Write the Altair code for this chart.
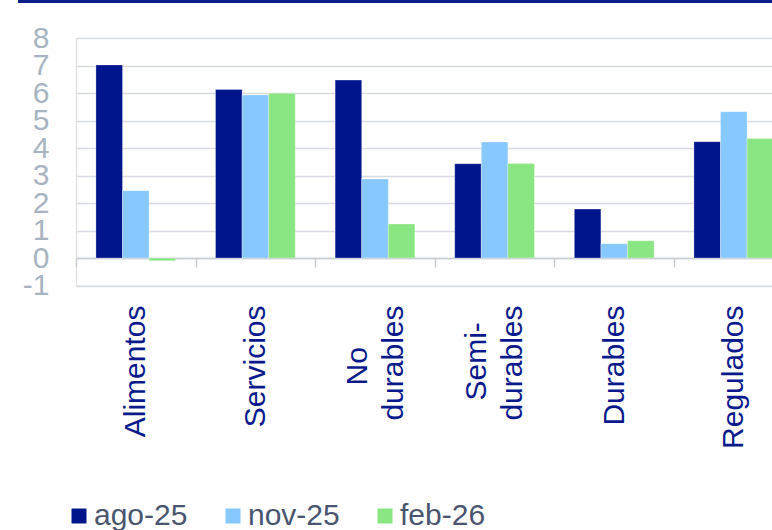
import altair as alt
import pandas as pd

NB = "\u00a0"
ZW = "\u200b"
categories = ["Alimentos", "Servicios", "No" + NB * 5 + ZW + "\ndurables", "Semi-" + NB * 2 + ZW + "\ndurables", "Durables", "Regulados"]
series = ["ago-25", "nov-25", "feb-26"]
ago_25 = [7.02, 6.13, 6.47, 3.43, 1.78, 4.23]
nov_25 = [2.45, 5.93, 2.87, 4.22, 0.52, 5.32]
feb_26 = [-0.10, 5.99, 1.24, 3.44, 0.63, 4.35]
colors = ["#00148C", "#87C8FF", "#8AE682"]
y_ticks = [-1, 0, 1, 2, 3, 4, 5, 6, 7, 8]

rows = []
for s, vals in zip(series, [ago_25, nov_25, feb_26]):
    for c, v in zip(categories, vals):
        rows.append({"cat": c, "serie": s, "valor": v})
df = pd.DataFrame(rows)

FONT = "Liberation Sans"
PLOT_W = 696
PLOT_H = 247.5
BAND_RANGE = 717.6
STEP = BAND_RANGE / len(categories)
LINE_H = 36

bars = alt.Chart(df).mark_bar(clip=True, stroke="white", strokeWidth=0.5, strokeOpacity=0.6).encode(
    x=alt.X(
        "cat:N",
        sort=categories,
        title=None,
        scale=alt.Scale(range=[0, BAND_RANGE], paddingInner=1/3, paddingOuter=1/6),
        axis=alt.Axis(
            orient="bottom",
            offset=-27.5,
            ticks=True,
            tickSize=9,
            tickOffset=-STEP / 2,
            labelOffset={
                "condition": {"test": "indexof(datum.value, '\\n') >= 0", "value": STEP / 2 - LINE_H / 2},
                "value": STEP / 2,
            },
            tickColor="#C8CDD4",
            tickWidth=1.5,
            domainColor="#C8CDD4",
            domainWidth=1.5,
            labelAngle=270,
            labelAlign="right",
            labelBaseline="middle",
            labelPadding=38,
            labelFont=FONT,
            labelFontSize=30,
            labelColor="#0A1A8C",
            labelLineHeight=LINE_H,
            labelExpr="split(datum.label, '\\n')",
            labelOverlap=False,
            labelBound=False,
            grid=False,
        ),
    ),
    xOffset=alt.XOffset("serie:N", sort=series, scale=alt.Scale(paddingInner=0, paddingOuter=0)),
    y=alt.Y(
        "valor:Q",
        title=None,
        scale=alt.Scale(domain=[-1, 8], nice=False, zero=False),
        axis=alt.Axis(
            values=y_ticks,
            ticks=False,
            tickSize=0,
            domain=False,
            labelPadding=27,
            labelFont=FONT,
            labelFontSize=30,
            labelColor="#A9B4C2",
            labelBaseline="middle",
            labelExpr="datum.value + ''",
            gridColor="#D8DCE2",
            gridWidth=1.5,
            labelOverlap=False,
            labelFlush=False,
        ),
    ),
    color=alt.Color(
        "serie:N",
        sort=series,
        scale=alt.Scale(domain=series, range=colors),
        legend=alt.Legend(
            title=None,
            orient="none",
            direction="horizontal",
            legendX=-12,
            legendY=463,
            symbolType="square",
            symbolSize=225,
            symbolStrokeWidth=0,
            symbolOpacity=1,
            labelFont=FONT,
            labelFontSize=30,
            labelColor="#4A5570",
            labelOffset=0,
            columnPadding=30,
            padding=0,
        ),
    ),
)

top_line = alt.Chart(pd.DataFrame({"k": [0]})).mark_rule(color="#0A1E8C", strokeWidth=3, clip=False).encode(
    x=alt.value(-58),
    x2=alt.value(PLOT_W),
    y=alt.value(-36.5),
)

chart = alt.layer(bars, top_line).properties(
    width=PLOT_W,
    height=PLOT_H,
    autosize=alt.AutoSizeParams(type="none"),
    padding={"left": 76, "top": 38, "right": 0, "bottom": 530 - 38 - PLOT_H},
).configure_view(stroke=None).configure(background="white")

chart.save("out.html", embed_options={"renderer": "svg", "actions": False})
